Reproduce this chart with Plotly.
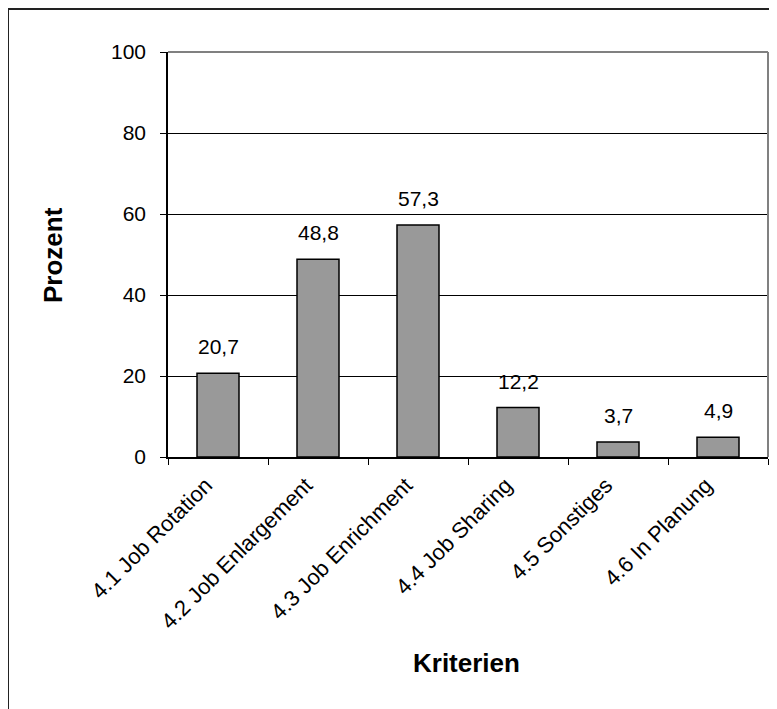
import plotly.graph_objects as go

categories = ["4.1 Job Rotation", "4.2 Job Enlargement", "4.3 Job Enrichment",
              "4.4 Job Sharing", "4.5 Sonstiges", "4.6 In Planung"]
values = [20.7, 48.8, 57.3, 12.2, 3.7, 4.9]
y_ticks = [0, 20, 40, 60, 80, 100]

# page has an 8px body margin, so the figure is laid out 8px smaller/shifted
OFF = 8
W, H = 777 - OFF, 709 - OFF
ml, mt = 168 - OFF, 52 - OFF
mr = W - (768 - OFF)
mb = H - (457 - OFF)
pw, ph = W - ml - mr, H - mt - mb

FONT = "Liberation Sans, Arial, sans-serif"

fig = go.Figure()
fig.add_trace(go.Bar(
    x=categories, y=values,
    marker=dict(color="#999999", line=dict(color="#000000", width=1.5)),
    width=0.42,
))

annotations = []
for c, v in zip(categories, values):
    annotations.append(dict(
        x=c, y=v, xref="x", yref="y", text=f"{v:.1f}".replace(".", ","),
        showarrow=False, yanchor="bottom", yshift=13,
        font=dict(family=FONT, size=21, color="#000")))

annotations.append(dict(
    x=(466 - OFF - ml) / pw, y=1 - (663 - OFF - mt) / ph, xref="paper", yref="paper",
    text="<b>Kriterien</b>", showarrow=False, xanchor="center", yanchor="middle",
    font=dict(family=FONT, size=26, color="#000")))
annotations.append(dict(
    x=(53 - OFF - ml) / pw, y=1 - (255 - OFF - mt) / ph, xref="paper", yref="paper",
    text="<b>Prozent</b>", showarrow=False, xanchor="center", yanchor="middle",
    textangle=-90, font=dict(family=FONT, size=26, color="#000")))

shapes = [
    # outer chart border
    dict(type="rect", xref="paper", yref="paper",
         x0=(8 - OFF - ml) / pw, x1=1 + 40 / pw, y0=-(mb + 40) / ph,
         y1=1 + (mt - (9 - OFF)) / ph,
         line=dict(color="#222222", width=2), layer="below"),
    # plot area top and right border (gray)
    dict(type="line", xref="paper", yref="paper", x0=0, x1=1, y0=1, y1=1,
         line=dict(color="#808080", width=2)),
    dict(type="line", xref="paper", yref="paper", x0=1, x1=1, y0=0, y1=1,
         line=dict(color="#808080", width=2)),
]

fig.update_layout(
    width=W, height=H,
    margin=dict(l=ml, r=mr, t=mt, b=mb, pad=0),
    paper_bgcolor="white", plot_bgcolor="white",
    showlegend=False,
    bargap=0.58,
    font=dict(family=FONT, size=21, color="#000"),
    annotations=annotations,
    shapes=shapes,
    xaxis=dict(
        type="category", tickangle=-45, tickson="boundaries",
        ticks="outside", ticklen=6, tickcolor="#000", tickwidth=1,
        showline=True, linecolor="#000", linewidth=1.5,
        showgrid=False, ticklabelshift=-12, ticklabelstandoff=5,
        tickfont=dict(family=FONT, size=22, color="#000"),
    ),
    yaxis=dict(
        range=[0, 100], tickvals=y_ticks, ticktext=[str(t) for t in y_ticks],
        ticks="outside", ticklen=6, tickcolor="#000", tickwidth=1,
        showline=True, linecolor="#000", linewidth=1.5,
        showgrid=True, gridcolor="#000", gridwidth=1,
        zeroline=False, ticklabelstandoff=10,
        tickfont=dict(family=FONT, size=21, color="#000"),
    ),
)

fig.write_html("out.html")
